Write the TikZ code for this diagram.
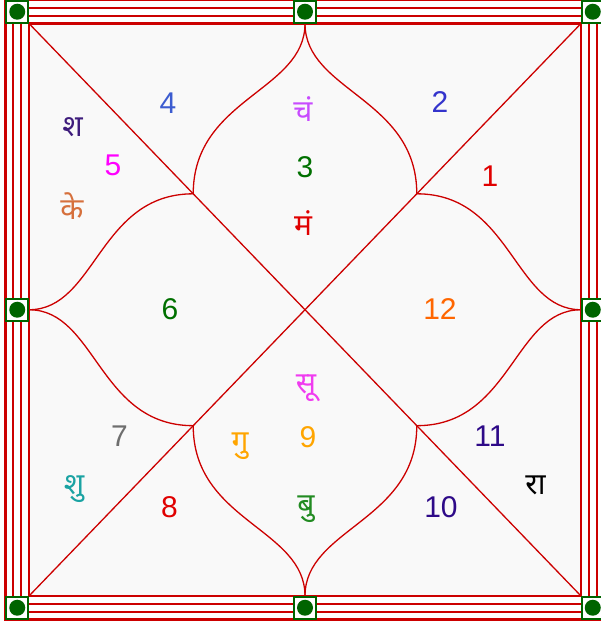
\documentclass[tikz,border=0pt]{standalone}
\usepackage{fontspec}
\setmainfont{Liberation Sans}
\newfontfamily\deva[Script=Devanagari]{Noto Sans}
\usetikzlibrary{calc}

\definecolor{chartred}{HTML}{CC0000}
\definecolor{pingreen}{HTML}{006400}
\definecolor{housebg}{HTML}{F9F9F9}
\definecolor{cRoyal}{HTML}{3C5CD0}
\definecolor{cBlue}{HTML}{3434CC}
\definecolor{cIndigo}{HTML}{2E0A88}
\definecolor{cPlum}{HTML}{3E1C7C}
\definecolor{cMagenta}{HTML}{FF00FF}
\definecolor{cViolet}{HTML}{C84BFF}
\definecolor{cSun}{HTML}{F03CF0}
\definecolor{cGreen}{HTML}{007000}
\definecolor{cForest}{HTML}{228B22}
\definecolor{cRed}{HTML}{E00000}
\definecolor{cOrange}{HTML}{FF6600}
\definecolor{cAmber}{HTML}{FFA500}
\definecolor{cGray}{HTML}{6E6E6E}
\definecolor{cTeal}{HTML}{1AA3A3}
\definecolor{cRust}{HTML}{D6703C}

\begin{document}
\begin{tikzpicture}[x=1pt, y=1pt,
  chartline/.style={chartred, line width=1.3pt},
  petal/.style={chartred, line width=1.3pt, out looseness=0.85, in looseness=1.2},
  num/.style={font=\fontsize{30}{36}\selectfont, inner sep=0pt, anchor=base},
  graha/.style={font=\deva\fontsize{30}{36}\selectfont, inner sep=0pt, anchor=base},
  gbox/.style={draw=pingreen, fill=white, line width=2pt, minimum size=22pt, inner sep=0pt}]

\useasboundingbox (0,0) rectangle (601,627);
\clip (0,0) rectangle (601,627);
\fill[white] (0,0) rectangle (601,627);

% chart square
\coordinate (BL) at (29,31);
\coordinate (TR) at (581,603.5);
\coordinate (TL) at (BL |- TR);
\coordinate (BR) at (TR |- BL);
\coordinate (C) at ($(BL)!0.5!(TR)$);
\coordinate (T) at ($(TL)!0.5!(TR)$);
\coordinate (B) at ($(BL)!0.5!(BR)$);
\coordinate (L) at ($(BL)!0.5!(TL)$);
\coordinate (R) at ($(BR)!0.5!(TR)$);
\foreach \k in {TL,TR,BL,BR}
  \coordinate (p\k) at ($(C)!0.405!(\k)$);

\fill[housebg] (BL) rectangle (TR);

\draw[chartline] (TL) -- (BR);
\draw[chartline] (TR) -- (BL);

% lotus petals
\draw[petal] (T) to[out=-90, in=90] (pTL);
\draw[petal] (T) to[out=-90, in=90] (pTR);
\draw[petal] (B) to[out=90, in=-90] (pBL);
\draw[petal] (B) to[out=90, in=-90] (pBR);
\draw[petal] (L) to[out=0, in=180] (pTL);
\draw[petal] (L) to[out=0, in=180] (pBL);
\draw[petal] (R) to[out=180, in=0] (pTR);
\draw[petal] (R) to[out=180, in=0] (pBR);

% frame
\foreach \d/\w in {0/2.6, 7.8/1.7, 15.7/1.7, 23.5/3}
  \draw[draw=chartred, line width=\w pt] ($(BL)+(-\d,-\d)$) rectangle ($(TR)+(\d,\d)$);

\foreach \mx/\my [count=\i] in {17.25/615.25, 305/615.25, 592.75/615.25,
                                17.25/317.25, 592.75/317.25,
                                17.25/19.25, 305/19.25, 592.75/19.25} {
  \node[gbox] (pin\i) at (\mx,\my) {};
  \fill[pingreen] (pin\i.center) circle (8);
}

% house numbers
\node[num, text=cRoyal]  (h4)  at (168,513) {4};
\node[num, text=cBlue]   (h2)  at (440,514) {2};
\node[num, text=cMagenta](h5)  at (113,451) {5};
\node[num, text=cGreen]  (h3)  at (305,449) {3};
\node[num, text=cRed]    (h1)  at (490,440) {1};
\node[num, text=cGreen]  (h6)  at (170,307) {6};
\node[num, text=cOrange] (h12) at (440,307) {12};
\node[num, text=cGray]   (h7)  at (119.5,180) {7};
\node[num, text=cAmber]  (h9)  at (308,179) {9};
\node[num, text=cIndigo] (h11) at (490,180) {11};
\node[num, text=cRed]    (h8)  at (169.5,109) {8};
\node[num, text=cIndigo] (h10) at (441,109) {10};

% planets
\node[graha, text=cPlum]   (sha) at (72.5,490) {श};
\node[graha, text=cRust]   (ke)  at (72,407) {के};
\node[graha, text=cViolet] (cha) at (303,505) {चं};
\node[graha, text=cRed]    (ma)  at (303,391) {मं};
\node[graha, text=cSun]    (su)  at (306,233) {सू};
\node[graha, text=cAmber]  (gu)  at (240,175) {गु};
\node[graha, text=cForest] (bu)  at (306,112) {बु};
\node[graha, text=cTeal]   (shu) at (74,132) {शु};
\node[graha, text=black]   (ra)  at (535.5,132) {रा};

\end{tikzpicture}
\end{document}
